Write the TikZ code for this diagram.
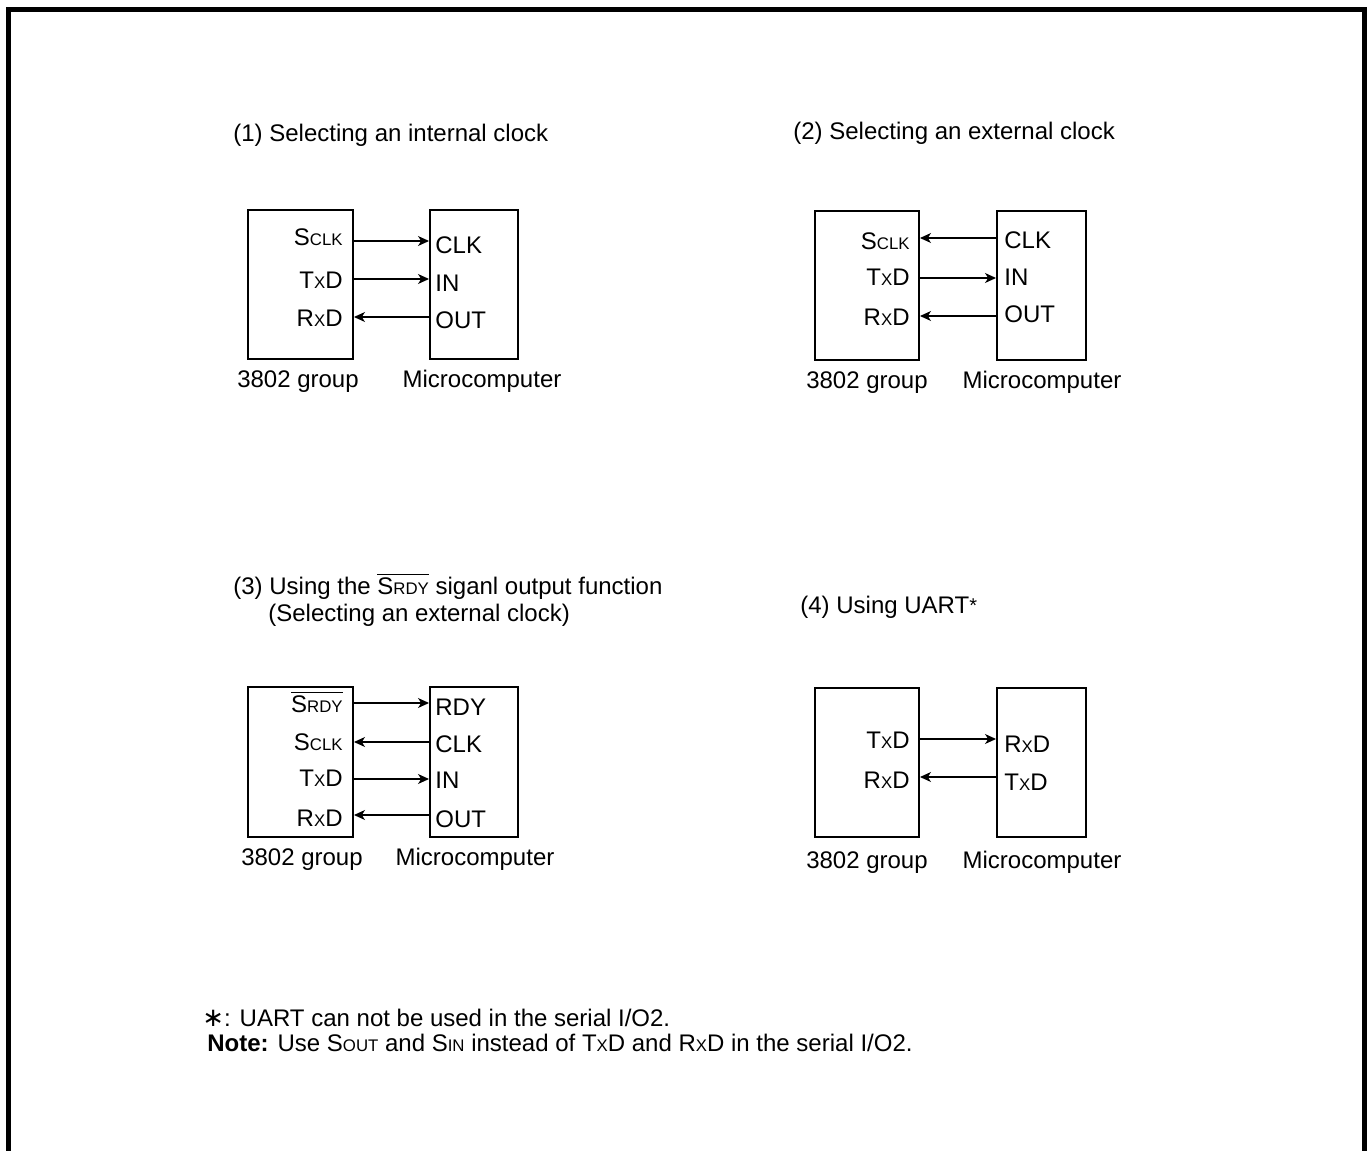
\documentclass[tikz,border=0pt]{standalone}
\usepackage{fontspec}
\setmainfont{Liberation Sans}
\newfontfamily\dejavu{DejaVu Sans}
\usetikzlibrary{arrows.meta}
\newcommand{\sm}[1]{{\fontsize{8.4}{10}\selectfont #1}}
\newcommand{\srdy}{$\overline{\hbox{S\sm{RDY}}}$}
\begin{document}
\begin{tikzpicture}[x=0.5pt,y=-0.5pt, font=\fontsize{12}{14}\selectfont,
  box/.style={draw, line width=1pt, anchor=north west, inner sep=0pt},
  pinl/.style={anchor=base east, inner sep=0pt},
  pinr/.style={anchor=base west, inner sep=0pt},
  capt/.style={anchor=base, inner sep=0pt},
  ttl/.style={anchor=base west, inner sep=0pt},
  sig/.style={line width=0.55pt, -{Stealth[length=5.5pt,width=5pt,inset=1.6pt]}}]
\useasboundingbox (0,0) rectangle (1372,1151);
\draw[line width=2.5pt] (8.5,1151) -- (8.5,9.5) -- (1364.5,9.5) -- (1364.5,1151);

% ---------- Panel 1 ----------
\node[ttl] (t1) at (233,141) {(1) Selecting an internal clock};
\node[box, minimum width=52.5pt, minimum height=74.5pt] (a1) at (247,209) {};
\node[box, minimum width=44pt, minimum height=74.5pt] (b1) at (429,209) {};
\node[pinl] (a1p1) at (343,245) {S\sm{CLK}};
\node[pinl] (a1p2) at (343,288) {T\sm{X}D};
\node[pinl] (a1p3) at (343,326) {R\sm{X}D};
\node[pinr] (b1p1) at (435,253) {CLK};
\node[pinr] (b1p2) at (435,291) {IN};
\node[pinr] (b1p3) at (435,328) {OUT};
\draw[sig] (a1.east |- 0,241) -- (b1.west |- 0,241);
\draw[sig] (a1.east |- 0,279) -- (b1.west |- 0,279);
\draw[sig] (b1.west |- 0,317) -- (a1.east |- 0,317);
\node[capt] (c1a) at (298,387) {3802 group};
\node[capt] (c1b) at (482,387) {Microcomputer};

% ---------- Panel 2 ----------
\node[ttl] (t2) at (793,139) {(2) Selecting an external clock};
\node[box, minimum width=52pt, minimum height=74.5pt] (a2) at (814,210) {};
\node[box, minimum width=44.5pt, minimum height=74.5pt] (b2) at (996,210) {};
\node[pinl] (a2p1) at (910,249) {S\sm{CLK}};
\node[pinl] (a2p2) at (910,285) {T\sm{X}D};
\node[pinl] (a2p3) at (910,325) {R\sm{X}D};
\node[pinr] (b2p1) at (1004,248) {CLK};
\node[pinr] (b2p2) at (1004,285) {IN};
\node[pinr] (b2p3) at (1004,322) {OUT};
\draw[sig] (b2.west |- 0,238) -- (a2.east |- 0,238);
\draw[sig] (a2.east |- 0,278) -- (b2.west |- 0,278);
\draw[sig] (b2.west |- 0,316) -- (a2.east |- 0,316);
\node[capt] (c2a) at (867,388) {3802 group};
\node[capt] (c2b) at (1042,388) {Microcomputer};

% ---------- Panel 3 ----------
\node[ttl] (t3a) at (233,594) {(3) Using the \srdy\ siganl output function};
\node[ttl] (t3b) at (268,621) {(Selecting an external clock)};
\node[box, minimum width=52.5pt, minimum height=75pt] (a3) at (247,686) {};
\node[box, minimum width=44pt, minimum height=75pt] (b3) at (429,686) {};
\node[pinl] (a3p1) at (343,712) {\srdy};
\node[pinl] (a3p2) at (343,750) {S\sm{CLK}};
\node[pinl] (a3p3) at (343,786) {T\sm{X}D};
\node[pinl] (a3p4) at (343,826) {R\sm{X}D};
\node[pinr] (b3p1) at (435,715) {RDY};
\node[pinr] (b3p2) at (435,752) {CLK};
\node[pinr] (b3p3) at (435,788) {IN};
\node[pinr] (b3p4) at (435,827) {OUT};
\draw[sig] (a3.east |- 0,703) -- (b3.west |- 0,703);
\draw[sig] (b3.west |- 0,742) -- (a3.east |- 0,742);
\draw[sig] (a3.east |- 0,779) -- (b3.west |- 0,779);
\draw[sig] (b3.west |- 0,815) -- (a3.east |- 0,815);
\node[capt] (c3a) at (302,865) {3802 group};
\node[capt] (c3b) at (475,865) {Microcomputer};

% ---------- Panel 4 ----------
\node[ttl] (t4) at (800,613) {(4) Using UART\raisebox{0.5pt}{\fontsize{10}{12}\selectfont *}};
\node[box, minimum width=52pt, minimum height=74.5pt] (a4) at (814,687) {};
\node[box, minimum width=44.5pt, minimum height=74.5pt] (b4) at (996,687) {};
\node[pinl] (a4p1) at (910,748) {T\sm{X}D};
\node[pinl] (a4p2) at (910,788) {R\sm{X}D};
\node[pinr] (b4p1) at (1004,752) {R\sm{X}D};
\node[pinr] (b4p2) at (1004,790) {T\sm{X}D};
\draw[sig] (a4.east |- 0,739) -- (b4.west |- 0,739);
\draw[sig] (b4.west |- 0,777) -- (a4.east |- 0,777);
\node[capt] (c4a) at (867,868) {3802 group};
\node[capt] (c4b) at (1042,868) {Microcomputer};

% ---------- Footnotes ----------
\node[ttl] (f1) at (202,1026) {{\dejavu\fontsize{13}{14}\selectfont ∗}: UART can not be used in the serial I/O2.};
\node[ttl] (f2) at (207,1051) {\textbf{Note:} Use S\sm{OUT} and S\sm{IN} instead of T\sm{X}D and R\sm{X}D in the serial I/O2.};
\end{tikzpicture}
\end{document}
